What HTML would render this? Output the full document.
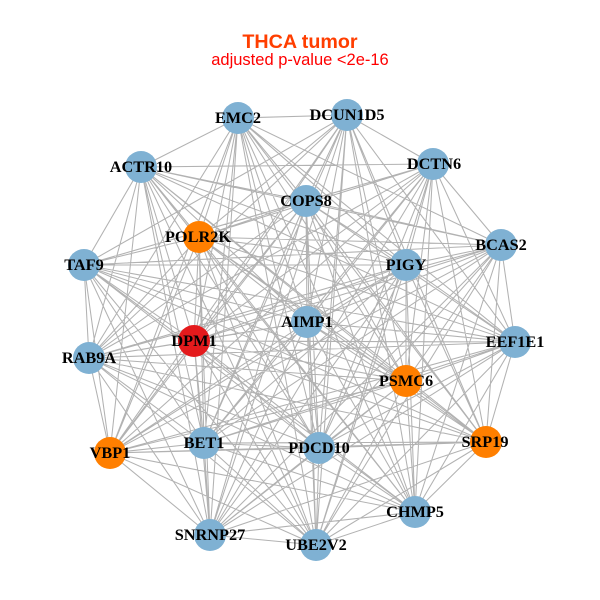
<!DOCTYPE html>
<html><head><meta charset="utf-8"><style>
html,body{margin:0;padding:0;background:#fff;width:600px;height:600px;overflow:hidden}
svg{display:block}
.n{font:bold 16.3px "Liberation Serif",serif;fill:#000;text-anchor:middle}
</style></head><body>
<svg width="600" height="600" viewBox="0 0 600 600" xmlns="http://www.w3.org/2000/svg">
<rect width="600" height="600" fill="#fff"/>
<path fill="none" stroke="#b2b2b2" stroke-width="1.05" d="
M238 118L347 115M238 118L501 245M238 118L515 342M238 118L486 442M238 118L415 512M238 118L316 545M238 118L210 535M238 118L110 453M238 118L89 358M238 118L141 167M238 118L306 201M238 118L199 237M238 118L406 265M238 118L307 322M238 118L406 381M238 118L319 448M238 118L204 443M238 118L194 341
M347 115L433 164M347 115L515 342M347 115L486 442M347 115L415 512M347 115L316 545M347 115L210 535M347 115L110 453M347 115L89 358M347 115L84 265M347 115L306 201M347 115L199 237M347 115L406 265M347 115L307 322M347 115L406 381M347 115L319 448M347 115L204 443M347 115L194 341
M433 164L501 245M433 164L515 342M433 164L486 442M433 164L415 512M433 164L316 545M433 164L210 535M433 164L110 453M433 164L89 358M433 164L84 265M433 164L141 167M433 164L306 201M433 164L199 237M433 164L406 265M433 164L307 322M433 164L406 381M433 164L319 448M433 164L204 443M433 164L194 341
M501 245L515 342M501 245L486 442M501 245L415 512M501 245L316 545M501 245L210 535M501 245L110 453M501 245L89 358M501 245L84 265M501 245L141 167M501 245L306 201M501 245L199 237M501 245L406 265M501 245L307 322M501 245L406 381M501 245L319 448M501 245L204 443M501 245L194 341
M515 342L486 442M515 342L415 512M515 342L316 545M515 342L210 535M515 342L110 453M515 342L89 358M515 342L84 265M515 342L141 167M515 342L306 201M515 342L199 237M515 342L406 265M515 342L307 322M515 342L406 381M515 342L319 448M515 342L204 443M515 342L194 341
M486 442L415 512M486 442L316 545M486 442L210 535M486 442L110 453M486 442L89 358M486 442L84 265M486 442L141 167M486 442L306 201M486 442L199 237M486 442L406 265M486 442L307 322M486 442L406 381M486 442L319 448M486 442L204 443M486 442L194 341
M415 512L316 545M415 512L210 535M415 512L110 453M415 512L89 358M415 512L84 265M415 512L141 167M415 512L306 201M415 512L199 237M415 512L406 265M415 512L307 322M415 512L406 381M415 512L319 448M415 512L204 443M415 512L194 341
M316 545L210 535M316 545L110 453M316 545L89 358M316 545L84 265M316 545L141 167M316 545L306 201M316 545L199 237M316 545L406 265M316 545L307 322M316 545L406 381M316 545L319 448M316 545L204 443M316 545L194 341
M210 535L110 453M210 535L89 358M210 535L84 265M210 535L141 167M210 535L306 201M210 535L199 237M210 535L406 265M210 535L307 322M210 535L406 381M210 535L319 448M210 535L204 443M210 535L194 341
M110 453L89 358M110 453L84 265M110 453L141 167M110 453L306 201M110 453L199 237M110 453L406 265M110 453L307 322M110 453L406 381M110 453L319 448M110 453L204 443M110 453L194 341
M89 358L84 265M89 358L141 167M89 358L306 201M89 358L199 237M89 358L406 265M89 358L307 322M89 358L406 381M89 358L319 448M89 358L204 443M89 358L194 341
M84 265L141 167M84 265L306 201M84 265L199 237M84 265L406 265M84 265L307 322M84 265L406 381M84 265L319 448M84 265L204 443M84 265L194 341
M141 167L306 201M141 167L199 237M141 167L406 265M141 167L307 322M141 167L406 381M141 167L319 448M141 167L204 443M141 167L194 341
M306 201L199 237M306 201L406 265M306 201L307 322M306 201L406 381M306 201L319 448M306 201L204 443M306 201L194 341
M199 237L406 265M199 237L307 322M199 237L406 381M199 237L319 448M199 237L204 443M199 237L194 341
M406 265L307 322M406 265L406 381M406 265L319 448M406 265L204 443M406 265L194 341
M307 322L406 381M307 322L319 448M307 322L204 443M307 322L194 341
M406 381L319 448M406 381L204 443M406 381L194 341
M319 448L204 443M319 448L194 341
M204 443L194 341"/>
<g fill="#7fb1d3">
<circle cx="238" cy="118" r="16"/><circle cx="347" cy="115" r="16"/><circle cx="433" cy="164" r="16"/><circle cx="501" cy="245" r="16"/><circle cx="515" cy="342" r="16"/><circle cx="415" cy="512" r="16"/><circle cx="316" cy="545" r="16"/><circle cx="210" cy="535" r="16"/><circle cx="89" cy="358" r="16"/><circle cx="84" cy="265" r="16"/><circle cx="141" cy="167" r="16"/><circle cx="306" cy="201" r="16"/><circle cx="406" cy="265" r="16"/><circle cx="307" cy="322" r="16"/><circle cx="319" cy="448" r="16"/><circle cx="204" cy="443" r="16"/>
</g>
<g fill="#ff7f00">
<circle cx="486" cy="442" r="16"/><circle cx="110" cy="453" r="16"/><circle cx="199" cy="237" r="16"/><circle cx="406" cy="381" r="16"/>
</g>
<circle cx="194" cy="341" r="16" fill="#e41a1c"/>
<g class="labels">
<text class="n" x="238" y="123">EMC2</text>
<text class="n" x="347" y="120">DCUN1D5</text>
<text class="n" x="434" y="169">DCTN6</text>
<text class="n" x="501" y="250">BCAS2</text>
<text class="n" x="515" y="347">EEF1E1</text>
<text class="n" x="485" y="447">SRP19</text>
<text class="n" x="415" y="517">CHMP5</text>
<text class="n" x="316" y="550">UBE2V2</text>
<text class="n" x="210" y="540">SNRNP27</text>
<text class="n" x="110" y="458">VBP1</text>
<text class="n" x="89" y="363">RAB9A</text>
<text class="n" x="84" y="270">TAF9</text>
<text class="n" x="141" y="172">ACTR10</text>
<text class="n" x="306" y="206">COPS8</text>
<text class="n" x="198" y="242">POLR2K</text>
<text class="n" x="406" y="270">PIGY</text>
<text class="n" x="307" y="327">AIMP1</text>
<text class="n" x="406" y="386">PSMC6</text>
<text class="n" x="319" y="453">PDCD10</text>
<text class="n" x="204" y="448">BET1</text>
<text class="n" x="194" y="346">DPM1</text>
</g>
<text x="300" y="48" text-anchor="middle" font-family="'Liberation Sans',sans-serif" font-weight="bold" font-size="19.7" fill="#ff3e00">THCA tumor</text>
<text x="300" y="65" text-anchor="middle" font-family="'Liberation Sans',sans-serif" font-size="16.5" fill="#ff0000">adjusted p-value &lt;2e-16</text>
</svg>
</body></html>
